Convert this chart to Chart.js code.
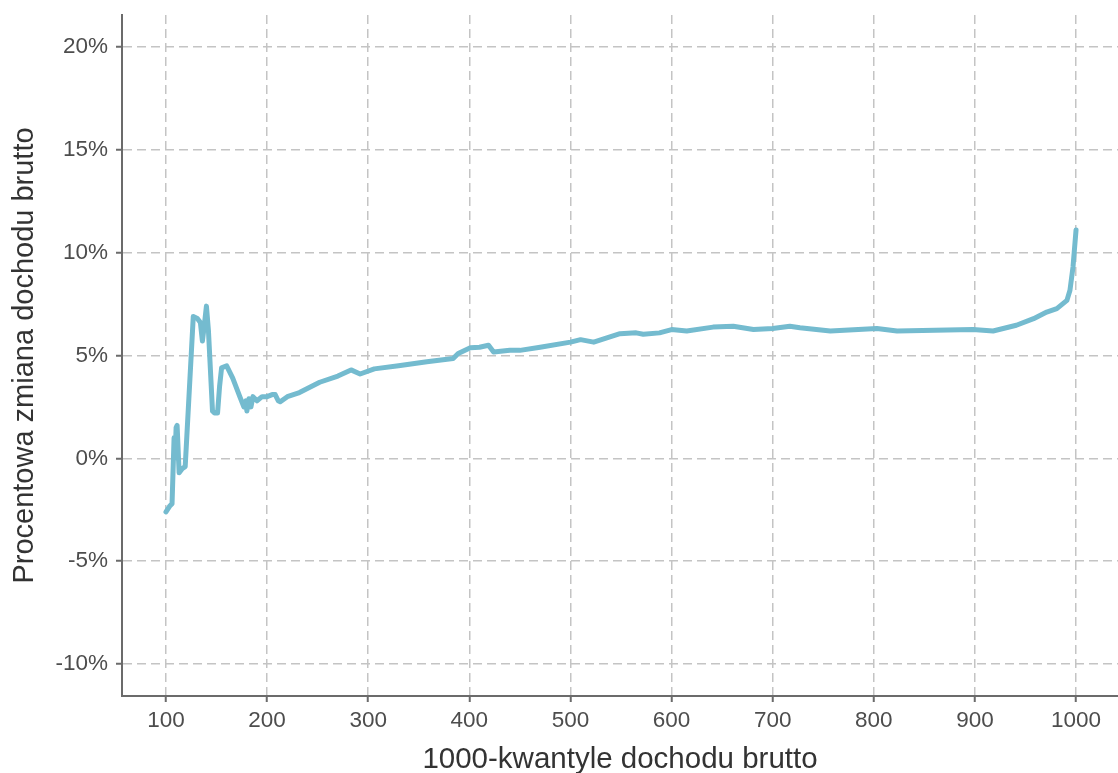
<!DOCTYPE html>
<html>
<head>
<meta charset="utf-8">
<script src="https://cdn.jsdelivr.net/npm/chart.js@4"></script>
<style>
  body { margin: 0; background: #fff; }
  .plot-container { width: 1118px; height: 773px; }
</style>
</head>
<body>
<div class="plot-container"><canvas id="myChart"></canvas></div>
<script>
// 1000-kwantyle (x) and percent change (y)
const quantiles = [100, 104, 106, 108, 109, 110, 111, 113, 116, 119, 127, 131, 134, 136, 138, 140, 142, 146, 148, 151,
  153, 155, 160, 166, 173, 177, 179, 180, 182, 184, 186, 190, 195, 200, 205, 208, 211, 213, 220, 232,
  252, 270, 283, 292, 306, 330, 358, 384, 389, 401, 410, 419, 424, 440, 450, 470, 500, 510, 523, 549,
  565, 572, 588, 600, 615, 641, 661, 681, 700, 717, 727, 757, 803, 823, 898, 918, 941, 958, 971, 981,
  991, 994, 997, 999, 1000];
const pctChange = [-2.6, -2.3, -2.2, 1.0, 0.0, 1.5, 1.6, -0.7, -0.5, -0.4, 6.9, 6.8, 6.6, 5.7, 6.5, 7.4, 6.2, 2.3, 2.2, 2.2,
  3.5, 4.4, 4.5, 3.9, 3.0, 2.5, 2.8, 2.3, 2.9, 2.5, 3.0, 2.8, 3.0, 3.0, 3.1, 3.1, 2.8, 2.75, 3.0, 3.2,
  3.7, 4.0, 4.3, 4.1, 4.35, 4.5, 4.7, 4.85, 5.1, 5.38, 5.4, 5.5, 5.17, 5.25, 5.25, 5.4, 5.65, 5.77, 5.65, 6.06,
  6.1, 6.03, 6.1, 6.26, 6.19, 6.38, 6.42, 6.26, 6.31, 6.42, 6.35, 6.19, 6.31, 6.19, 6.26, 6.19, 6.47, 6.79, 7.11, 7.28,
  7.68, 8.17, 9.3, 10.5, 11.1];

const xTicks = [100, 200, 300, 400, 500, 600, 700, 800, 900, 1000];
const yTicks = [-10, -5, 0, 5, 10, 15, 20];

const fontFamily = '"Liberation Sans", Arial, sans-serif';
const gridColor = '#c4c4c4';
const axisColor = '#6b6b6b';

const points = quantiles.map((q, i) => ({ x: q, y: pctChange[i] }));

new Chart(document.getElementById('myChart').getContext('2d'), {
  type: 'line',
  data: {
    datasets: [{
      data: points,
      borderColor: '#74bbcf',
      borderWidth: 5,
      pointRadius: 0,
      tension: 0,
      borderJoinStyle: 'round',
      borderCapStyle: 'round',
      fill: false
    }]
  },
  options: {
    responsive: true,
    maintainAspectRatio: false,
    animation: false,
    layout: { padding: { top: 15, right: 0, left: 0, bottom: 0 } },
    plugins: { legend: { display: false }, tooltip: { enabled: false } },
    scales: {
      x: {
        type: 'linear',
        min: 56.5,
        max: 1041.5,
        afterBuildTicks: s => { s.ticks = xTicks.map(v => ({ value: v })); },
        afterFit: s => { s.height = 77; s.paddingLeft = 0; s.paddingRight = 0; },
        grid: { color: gridColor, lineWidth: 1.5, tickColor: axisColor, tickLength: 6, tickWidth: 2 },
        border: { color: axisColor, width: 2, dash: [9, 5] },
        ticks: { color: '#4d4d4d', font: { family: fontFamily, size: 22.5 }, padding: 5, maxRotation: 0,
                 callback: v => String(v) },
        title: { display: true, text: '1000-kwantyle dochodu brutto', color: '#333',
                 font: { family: fontFamily, size: 29.5, lineHeight: 0.9 }, padding: { top: 7, bottom: 0 } }
      },
      y: {
        min: -11.55,
        max: 21.55,
        afterBuildTicks: s => { s.ticks = yTicks.map(v => ({ value: v })); },
        afterFit: s => { s.width = 122; s.paddingTop = 0; s.paddingBottom = 0; },
        grid: { color: gridColor, lineWidth: 1.5, tickColor: axisColor, tickLength: 6, tickWidth: 2 },
        border: { color: axisColor, width: 2, dash: [9, 5] },
        ticks: { color: '#4d4d4d', font: { family: fontFamily, size: 22.5 }, padding: 8,
                 callback: v => v + '%' },
        title: { display: true, text: 'Procentowa zmiana dochodu brutto', color: '#333',
                 font: { family: fontFamily, size: 29 }, padding: { top: 8 } }
      }
    }
  }
});
</script>
</body>
</html>
